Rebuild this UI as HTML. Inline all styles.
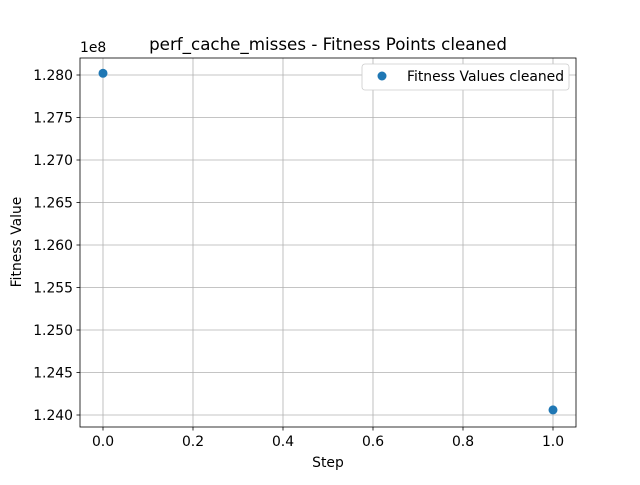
<!DOCTYPE html>
<html><head><meta charset="utf-8"><style>
body{margin:0;background:#fff;font-family:"Liberation Sans","DejaVu Sans",sans-serif;}
svg text{font-family:"DejaVu Sans","Liberation Sans",sans-serif;}
</style></head><body>
<svg id="chart" width="640" height="480" xmlns="http://www.w3.org/2000/svg">
<rect width="640" height="480" fill="#fff"/>
<g id="grid"></g>
<g id="axes"></g>
<g id="points"></g>
<rect x="80" y="58" width="496" height="369" fill="none" stroke="#000" stroke-width="0.8"/>
<text x="328" y="50" font-size="16.7" text-anchor="middle">perf_cache_misses - Fitness Points cleaned</text>
<text x="328" y="467" font-size="13.9" text-anchor="middle">Step</text>
<text x="21" y="242" font-size="13.9" text-anchor="middle" transform="rotate(-90 21 242)">Fitness Value</text>
<text x="80" y="52" font-size="13.9">1e8</text>
<g>
<rect x="362" y="64" width="207" height="26" rx="3" fill="#fff" stroke="#ccc" stroke-width="0.8"/>
<circle cx="382" cy="76" r="4.5" fill="#1f77b4"/>
<text x="407" y="81" font-size="13.9">Fitness Values cleaned</text>
</g>
</svg>
<script>
const xs=[0,1];
const ys=[1.2802,1.2406];
const xTicks=[0,0.2,0.4,0.6,0.8,1.0];
const xTickLabels=["0.0","0.2","0.4","0.6","0.8","1.0"];
const yTicks=[1.240,1.245,1.250,1.255,1.260,1.265,1.270,1.275,1.280];
const yTickLabels=["1.240","1.245","1.250","1.255","1.260","1.265","1.270","1.275","1.280"];
const NS="http://www.w3.org/2000/svg";
function X(v){return 103+v*450;}
function Y(v){return 415-(v-1.240)/0.040*340;}
function mk(t,a,p){const e=document.createElementNS(NS,t);for(const k in a)e.setAttribute(k,a[k]);p.appendChild(e);return e;}
const g=document.getElementById('grid'),ax=document.getElementById('axes'),pt=document.getElementById('points');
xTicks.forEach((v,i)=>{const x=X(v);
let l=mk('line',{x1:x,x2:x,y1:58,y2:427,stroke:'#b0b0b0','stroke-width':0.8},g);


let t=mk('line',{x1:x,x2:x,y1:427,y2:430.5,stroke:'#000','stroke-width':0.8},ax);


let s=mk('text',{x:x,y:446,'font-size':13.9,'text-anchor':'middle'},ax);s.textContent=xTickLabels[i];

});
yTicks.forEach((v,i)=>{const y=Y(v);
let l=mk('line',{x1:80,x2:576,y1:y,y2:y,stroke:'#b0b0b0','stroke-width':0.8},g);


let t=mk('line',{x1:76.5,x2:80,y1:y,y2:y,stroke:'#000','stroke-width':0.8},ax);


let s=mk('text',{x:73,y:y+5,'font-size':13.9,'text-anchor':'end'},ax);s.textContent=yTickLabels[i];

});
xs.forEach((v,i)=>{let c=mk('circle',{cx:X(v),cy:Y(ys[i]),r:4.5,fill:'#1f77b4'},pt);

});
</script>
</body></html>
